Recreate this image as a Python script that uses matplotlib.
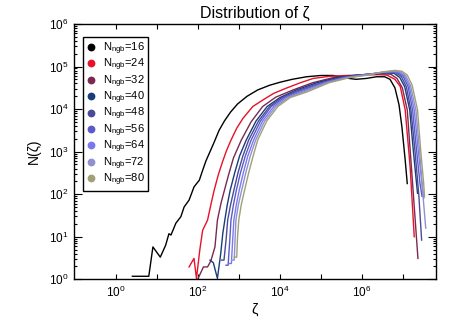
import matplotlib
matplotlib.use("Agg")
import matplotlib.pyplot as plt
import matplotlib.ticker as mticker
import numpy as np

plt.rcParams['font.family'] = ['Liberation Sans', 'DejaVu Sans']
plt.rcParams['mathtext.default'] = 'regular'

# log10(zeta) and log10(N), one pair per N_ngb
ngb = [16, 24, 32, 40, 48, 56, 64, 72, 80]
colors = ['#000000', '#e8102a', '#7a2a50', '#1a3c78', '#4a4a98',
          '#5a5ac8', '#7878f0', '#9090d0', '#a0a078']

lz16 = [0.41, 0.81, 0.91, 1.09, 1.22, 1.30, 1.35, 1.47, 1.59, 1.67, 1.79, 1.91, 2.04, 2.12, 2.20, 2.30,
        2.40, 2.52, 2.65, 2.80, 2.97, 3.20, 3.46, 3.75, 4.00, 4.30, 4.65, 5.00, 5.30, 5.60, 5.85, 6.10,
        6.35, 6.55, 6.68, 6.80, 6.90, 6.97, 7.05, 7.10]
ln16 = [0.07, 0.07, 0.76, 0.52, 0.80, 1.07, 1.04, 1.32, 1.47, 1.70, 1.86, 2.17, 2.33, 2.56, 2.78, 3.00,
        3.22, 3.50, 3.72, 3.93, 4.12, 4.30, 4.45, 4.56, 4.63, 4.70, 4.76, 4.79, 4.79, 4.73, 4.70, 4.72,
        4.76, 4.76, 4.70, 4.50, 4.10, 3.58, 2.80, 2.25]

lz24 = [1.79, 1.91, 1.97, 2.05, 2.12, 2.24, 2.32, 2.40, 2.50, 2.60, 2.70, 2.81, 2.95, 3.10, 3.34, 3.58,
        3.85, 4.15, 4.50, 4.81, 5.20, 5.60, 6.00, 6.40, 6.60, 6.80, 6.93, 7.05, 7.17, 7.27]
ln24 = [0.29, 0.49, 0.02, 0.68, 1.15, 1.39, 1.75, 2.09, 2.45, 2.75, 3.02, 3.27, 3.55, 3.78, 4.06, 4.21,
        4.37, 4.49, 4.62, 4.72, 4.77, 4.79, 4.80, 4.81, 4.80, 4.70, 4.53, 3.98, 2.64, 1.00]

lz32 = [2.00, 2.14, 2.24, 2.32, 2.42, 2.48, 2.57, 2.65, 2.75, 2.87, 3.06, 3.30, 3.58, 3.90, 4.32, 4.80,
        5.30, 5.80, 6.20, 6.50, 6.70, 6.85, 6.98, 7.10, 7.23, 7.36]
ln32 = [0.00, 0.29, 0.29, 0.43, 0.76, 1.39, 1.80, 2.09, 2.45, 2.85, 3.27, 3.70, 4.06, 4.28, 4.45, 4.62,
        4.74, 4.79, 4.82, 4.83, 4.82, 4.72, 4.50, 3.98, 2.25, 0.49]

lz40 = [2.30, 2.38, 2.48, 2.56, 2.61, 2.66, 2.72, 2.79, 2.90, 3.02, 3.18, 3.42, 3.69, 4.00, 4.40, 4.90,
        5.40, 5.90, 6.30, 6.60, 6.78, 6.92, 7.04, 7.16, 7.25, 7.35]
ln40 = [0.45, 0.39, 0.02, 0.60, 1.07, 1.39, 1.75, 2.09, 2.50, 2.90, 3.27, 3.72, 4.06, 4.27, 4.45, 4.62,
        4.74, 4.80, 4.83, 4.85, 4.84, 4.74, 4.52, 3.98, 3.00, 2.02]

lz48 = [2.58, 2.64, 2.69, 2.73, 2.80, 2.88, 2.98, 3.10, 3.24, 3.48, 3.75, 4.05, 4.45, 5.00, 5.50, 5.95,
        6.35, 6.65, 6.83, 6.96, 7.08, 7.19, 7.29, 7.38, 7.45]
ln48 = [0.45, 0.45, 0.92, 1.39, 1.75, 2.09, 2.50, 2.90, 3.27, 3.72, 4.06, 4.27, 4.44, 4.62, 4.74, 4.80,
        4.84, 4.86, 4.85, 4.76, 4.52, 3.98, 3.00, 2.00, 0.92]

lz56 = [2.69, 2.74, 2.78, 2.81, 2.87, 2.94, 3.04, 3.16, 3.30, 3.53, 3.79, 4.10, 4.50, 5.05, 5.55, 6.00,
        6.40, 6.70, 6.87, 7.00, 7.12, 7.23, 7.33, 7.41, 7.46]
ln56 = [0.33, 0.33, 0.90, 1.39, 1.75, 2.09, 2.50, 2.90, 3.27, 3.72, 4.06, 4.27, 4.43, 4.62, 4.74, 4.80,
        4.85, 4.87, 4.86, 4.77, 4.53, 3.98, 3.00, 2.25, 1.95]

lz64 = [2.77, 2.82, 2.85, 2.88, 2.94, 3.01, 3.11, 3.22, 3.36, 3.58, 3.85, 4.15, 4.55, 5.10, 5.60, 6.05,
        6.45, 6.73, 6.90, 7.03, 7.15, 7.27, 7.37, 7.46, 7.50]
ln64 = [0.37, 0.37, 0.90, 1.39, 1.75, 2.09, 2.50, 2.90, 3.27, 3.72, 4.06, 4.27, 4.42, 4.62, 4.74, 4.80,
        4.86, 4.88, 4.87, 4.78, 4.54, 3.98, 3.00, 2.25, 1.90]

lz72 = [2.83, 2.89, 2.91, 2.93, 2.99, 3.07, 3.17, 3.28, 3.41, 3.63, 3.90, 4.20, 4.60, 5.15, 5.65, 6.10,
        6.50, 6.76, 6.93, 7.06, 7.18, 7.31, 7.40, 7.48, 7.55]
ln72 = [0.45, 0.45, 0.95, 1.39, 1.75, 2.09, 2.50, 2.90, 3.27, 3.72, 4.06, 4.27, 4.41, 4.62, 4.74, 4.80,
        4.87, 4.89, 4.88, 4.79, 4.55, 3.98, 3.00, 2.00, 1.20]

lz80 = [2.89, 2.95, 2.97, 3.00, 3.06, 3.14, 3.24, 3.35, 3.46, 3.68, 3.95, 4.25, 4.65, 5.20, 5.70, 6.15,
        6.55, 6.80, 6.97, 7.10, 7.22, 7.35, 7.43, 7.50, 7.52]
ln80 = [0.52, 0.52, 1.00, 1.39, 1.75, 2.09, 2.50, 2.90, 3.27, 3.72, 4.06, 4.27, 4.40, 4.62, 4.74, 4.80,
        4.88, 4.91, 4.89, 4.80, 4.56, 3.98, 3.00, 2.25, 1.94]

all_lz = [lz16, lz24, lz32, lz40, lz48, lz56, lz64, lz72, lz80]
all_ln = [ln16, ln24, ln32, ln40, ln48, ln56, ln64, ln72, ln80]

# decades for the ticks
xdec = [0, 1, 2, 3, 4, 5, 6, 7]
ydec = [0, 1, 2, 3, 4, 5, 6]

fig = plt.figure(figsize=(4.58, 3.27), dpi=100)
ax = fig.add_axes([0.1616, 0.146, 0.7904, 0.7806])

for n, c, lz, ln in zip(ngb, colors, all_lz, all_ln):
    ax.plot(10 ** np.array(lz), 10 ** np.array(ln), color=c, lw=1.0)
    # legend entry: dot only
    ax.plot([], [], 'o', color=c, ms=4.6, label=r'N$_{ngb}$=%d' % n)

ax.set_xscale('log')
ax.set_yscale('log')
ax.set_xlim(10 ** -1.01, 10 ** 7.8)
ax.set_ylim(1, 1e6)

ax.set_xticks([10.0 ** d for d in xdec])
ax.set_xticklabels([r'$10^{%d}$' % d if d % 2 == 0 else '' for d in xdec])
ax.xaxis.set_minor_locator(mticker.NullLocator())
ax.set_yticks([10.0 ** d for d in ydec])
ax.set_yticklabels([r'$10^{%d}$' % d for d in ydec])
ax.yaxis.set_minor_locator(mticker.LogLocator(base=10, subs=np.arange(2, 10), numticks=20))
ax.yaxis.set_minor_formatter(mticker.NullFormatter())

ax.tick_params(axis='both', which='both', direction='in', top=True, right=True, labelsize=8.5, width=0.8)
ax.tick_params(axis='x', which='major', length=3.6, pad=4)
ax.tick_params(axis='y', which='major', length=5.5, pad=4)
ax.tick_params(axis='y', which='minor', length=2.5)
for s in ax.spines.values():
    s.set_linewidth(1.0)

ax.set_title('Distribution of ζ', fontsize=11.5, pad=4)
ax.set_xlabel('ζ', fontsize=10.5, labelpad=2)
ax.set_ylabel('N(ζ)', fontsize=10, labelpad=6)

leg = ax.legend(loc='upper left', bbox_to_anchor=(0.025, 0.949), borderaxespad=0, fontsize=8.0,
                handlelength=0.9, handletextpad=0.6, labelspacing=0.0, borderpad=0.3,
                fancybox=False, framealpha=1, edgecolor='black')
leg.get_frame().set_linewidth(1.0)

fig.savefig('out.png', dpi=100)
